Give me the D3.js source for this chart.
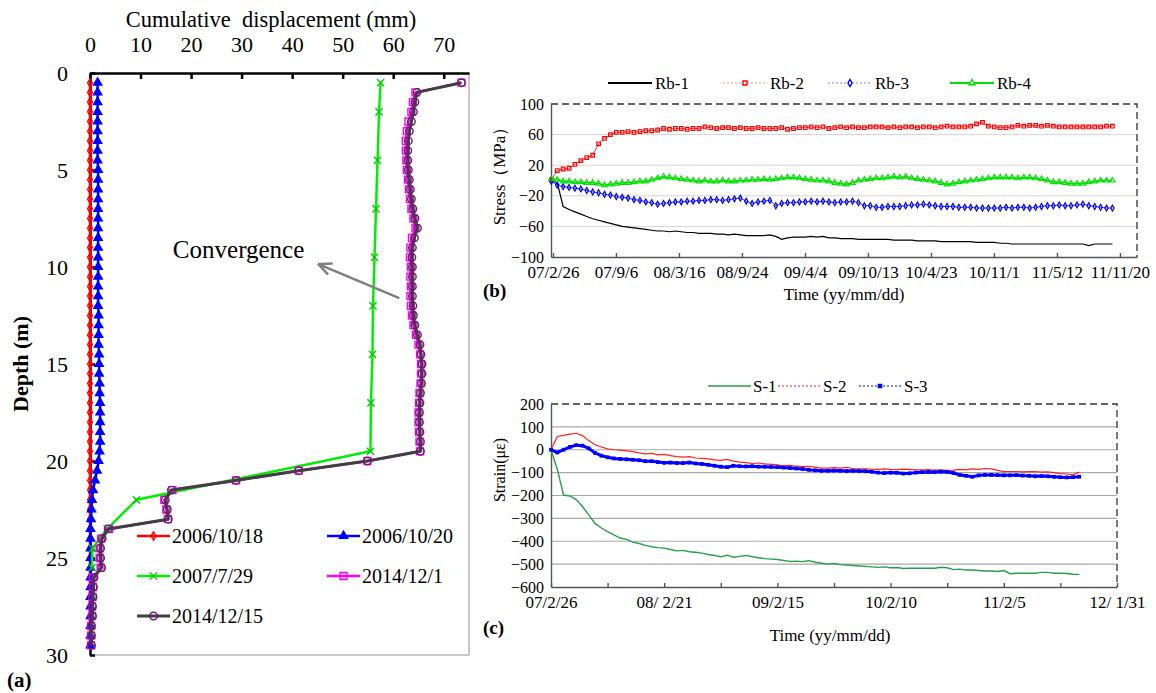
<!DOCTYPE html>
<html>
<head>
<meta charset="utf-8">
<script src="https://cdn.jsdelivr.net/npm/d3@7"></script>
<style>
  body { margin: 0; background: #fff; }
</style>
</head>
<body>
<div id="chart"></div>
<script>
// ---------- data: panel (a) displacement profile ----------
const depths = [0.5,1,1.5,2,2.5,3,3.5,4,4.5,5,5.5,6,6.5,7,7.5,8,8.5,9,9.5,10,
  10.5,11,11.5,12,12.5,13,13.5,14,14.5,15,15.5,16,16.5,17,17.5,18,18.5,19,19.5,20,
  20.5,21,21.5,22,22.5,23,23.5,24,24.5,25,25.5,26,26.5,27,27.5,28,28.5,29,29.5];

const disp061018 = [0,0,0,0,0,0,0,0,0,0, 0,0,0,0,0,0,0,0,0,0,
  0,0,0,0,0,0,0,0,0,0, 0,0,0,0,0,0,0,0,0,0,
  0,0,0,0,0,0,0,0,0,0, 0,0,0,0,0,0,0,0,0];
const disp061020 = [1.5,1.5,1.5,1.5,1.5,1.5,1.5,1.5,1.5,1.6,
  1.6,1.6,1.6,1.6,1.6,1.6,1.6,1.6,1.6,1.6,
  1.6,1.6,1.6,1.6,1.7,1.7,1.7,1.7,1.8,1.8,
  1.8,1.9,1.9,2.0,2.0,2.0,2.0,2.0,1.9,1.7,
  1.4,1.0,0.6,0.4,0.3,0.2,0.1,0.1,0.1,0.1,
  0.1,0.1,0.1,0.1,0.1,0.1,0.1,0.1,0.1];
const depths070729 = [0.5,2,4.5,7,9.5,12,14.5,17,19.5,22,23.5,24.5,25.5];
const disp070729 = [57.5,57.2,56.9,56.6,56.3,56.0,55.9,55.6,55.5,9.2,3.4,0.5,0.4];
const disp141201 = [73.5,64.4,63.9,63.6,63.0,62.7,62.5,62.5,62.6,62.7,
  62.9,63.1,63.3,63.6,64.0,64.4,63.7,63.4,63.3,63.5,
  63.4,63.5,63.4,63.5,63.7,64.0,64.5,65.0,65.3,65.5,
  65.5,65.4,65.2,65.1,65.0,65.0,65.1,65.2,65.3,54.9,
  41.3,28.9,16.3,14.7,15.1,15.4,3.8,2.2,1.9,1.9,
  2.1,0.6,0.6,0.5,0.4,0.4,0.2,0.2,0.2];
const disp141215 = [73.5,64.7,64.3,64.0,63.6,63.2,63.0,62.9,62.9,63.0,
  63.2,63.4,63.6,63.9,64.3,64.8,64.2,63.8,63.7,63.8,
  63.8,63.8,63.8,63.9,64.0,64.3,64.8,65.3,65.5,65.7,
  65.7,65.6,65.4,65.3,65.2,65.2,65.3,65.4,65.4,54.9,
  41.3,28.9,16.1,14.9,15.3,15.5,3.6,2.4,2.1,2.1,
  2.3,0.8,0.7,0.6,0.5,0.5,0.3,0.3,0.3];
const dispTicks = [0,10,20,30,40,50,60,70];
const depthTicks = [0,5,10,15,20,25,30];

// ---------- data: panel (b) rock bolt stress, one reading every 18 days ----------
const bStart = new Date(2007, 1, 21);
const bStep = 18;
const rb1 = [0,-3,-34,-38,-41,-44,-47,-50,-52,-54,
  -56,-58,-60,-61,-62,-63,-64,-65,-66,-66,
  -67,-66,-67,-68,-68,-69,-69,-69,-70,-70,
  -71,-70,-71,-72,-72,-72,-72,-71,-73,-77,
  -75,-74,-74,-74,-73,-74,-73,-75,-75,-76,
  -76,-76,-77,-77,-77,-77,-77,-77,-78,-78,
  -78,-78,-79,-79,-79,-79,-80,-80,-80,-80,
  -80,-80,-81,-81,-81,-81,-82,-82,-83,-83,
  -83,-83,-83,-83,-83,-83,-83,-83,-83,-83,
  -83,-85,-83,-83,-83,-83];
const rb2 = [1,13,15,16,21,26,30,33,48,55,
  60,63,63,64,63,64,65,65,66,68,
  67,68,68,67,68,68,70,69,68,69,
  69,68,69,68,68,69,68,68,68,69,
  67,68,69,69,70,69,70,68,69,70,
  69,70,69,69,70,70,70,69,70,69,
  70,70,69,70,70,69,70,71,70,70,
  70,71,74,76,71,70,69,69,70,72,
  71,72,72,71,72,71,70,70,70,70,
  70,70,70,70,71,71];
const rb3 = [-1,-6,-8,-9,-10,-11,-13,-15,-16,-18,
  -19,-21,-22,-23,-25,-26,-28,-29,-31,-30,
  -29,-28,-28,-27,-27,-26,-26,-25,-25,-26,
  -25,-24,-23,-27,-30,-28,-27,-26,-33,-30,
  -29,-29,-28,-28,-27,-28,-27,-28,-29,-28,
  -28,-27,-29,-33,-33,-35,-35,-34,-34,-34,
  -33,-32,-32,-31,-32,-33,-34,-34,-34,-35,
  -35,-35,-36,-36,-36,-36,-36,-35,-36,-35,
  -35,-36,-35,-34,-33,-33,-32,-33,-33,-32,
  -31,-33,-34,-35,-36,-36];
const rb4 = [2,1,-1,-1,-2,-2,-3,-3,-4,-6,
  -5,-4,-3,-3,-2,-1,-1,1,3,5,
  4,3,2,1,0,-1,0,-1,-1,0,
  -1,-1,0,0,1,1,2,1,2,3,
  4,4,3,2,1,0,0,-1,-3,-4,
  -5,-3,0,1,2,3,3,4,5,4,
  5,3,2,1,0,-1,-3,-5,-4,-2,
  -1,0,1,2,3,4,4,4,4,3,
  4,4,3,2,0,-2,-2,-3,-4,-4,
  -4,-2,-1,0,0,0];
const bTickDates = ["2007-02-26","2007-09-06","2008-03-16","2008-09-24","2009-04-04",
  "2009-10-13","2010-04-23","2010-11-01","2011-05-12","2011-11-20"];
const bTickLabels = ["07/2/26","07/9/6","08/3/16","08/9/24","09/4/4",
  "09/10/13","10/4/23","10/11/1","11/5/12","11/11/20"];
const stressTicks = [100,60,20,-20,-60,-100];

// ---------- data: panel (c) steel arch strain, one reading every 20 days ----------
const cStart = new Date(2007, 1, 26);
const cStep = 20;
const s1 = [0,-85,-198,-202,-218,-248,-285,-322,-342,-358,
  -372,-386,-392,-404,-410,-418,-424,-428,-430,-436,
  -442,-440,-446,-448,-452,-458,-462,-468,-461,-470,
  -466,-462,-468,-472,-476,-478,-480,-484,-488,-487,
  -489,-485,-492,-496,-500,-497,-502,-504,-506,-508,
  -510,-512,-514,-512,-516,-515,-519,-518,-518,-518,
  -518,-518,-514,-516,-524,-522,-526,-526,-528,-530,
  -530,-532,-528,-542,-540,-540,-540,-540,-536,-536,
  -540,-540,-541,-544,-545];
const s2 = [0,58,63,68,72,62,40,22,12,4,
  0,-2,-5,-8,-14,-18,-16,-22,-20,-26,
  -30,-32,-30,-36,-38,-40,-44,-46,-42,-50,
  -54,-56,-60,-58,-62,-64,-66,-70,-68,-72,
  -74,-73,-76,-80,-80,-78,-80,-77,-82,-84,
  -83,-85,-86,-84,-86,-87,-85,-86,-88,-88,
  -87,-89,-88,-90,-89,-86,-88,-84,-86,-82,
  -84,-90,-96,-95,-95,-97,-96,-95,-98,-97,
  -100,-104,-106,-110,-98];
const s3 = [0,-12,0,12,20,18,6,-14,-26,-33,
  -38,-40,-42,-44,-46,-50,-50,-54,-57,-56,
  -58,-58,-56,-60,-62,-66,-70,-74,-76,-70,
  -72,-73,-72,-74,-74,-75,-76,-78,-80,-82,
  -84,-88,-90,-92,-92,-91,-92,-93,-92,-93,
  -94,-96,-100,-102,-100,-101,-104,-103,-100,-98,
  -97,-98,-96,-97,-102,-110,-114,-118,-112,-110,
  -110,-111,-112,-112,-111,-113,-114,-116,-115,-116,
  -118,-120,-121,-120,-118];
const cTickDates = ["2007-02-26","2008-02-21","2009-02-15","2010-02-10","2011-02-05","2012-01-31"];
const cTickLabels = ["07/2/26","08/ 2/21","09/2/15","10/2/10","11/2/5","12/ 1/31"];
const strainTicks = [200,100,0,-100,-200,-300,-400,-500,-600];

const serif = '"Liberation Serif", "Times New Roman", serif';
const parseDate = d3.timeParse("%Y-%m-%d");

const svg = d3.select("#chart")
    .append("svg")
    .attr("width", 1156)
    .attr("height", 693)
    .style("font-family", serif);

// =============== panel (a) ===============
const xA = d3.scaleLinear().domain([0, 75]).range([90, 469]);
const yA = d3.scaleLinear().domain([0, 30]).range([73, 655]);

// light frame on right and bottom
svg.append("path")
    .attr("d", `M${xA(0)},${yA(30)}H${xA(75)}V${yA(0)}`)
    .attr("fill", "none")
    .attr("stroke", "#b8b8b8")
    .attr("stroke-width", 1.5);

const axTop = svg.append("g")
    .attr("transform", `translate(0,${yA(0)})`)
    .call(d3.axisTop(xA).tickValues(dispTicks).tickSize(-6).tickSizeOuter(0).tickPadding(21));
const axLeft = svg.append("g")
    .attr("transform", `translate(${xA(0)},0)`)
    .call(d3.axisLeft(yA).tickValues(depthTicks).tickSize(-5).tickSizeOuter(0).tickPadding(22));
[axTop, axLeft].forEach(g => {
    g.selectAll("path, line").attr("stroke", "#000").attr("stroke-width", 2.5);
    g.selectAll("text").attr("font-family", serif).attr("font-size", 22).attr("fill", "#000");
});

svg.append("text")
    .attr("x", 271).attr("y", 27)
    .attr("text-anchor", "middle")
    .attr("font-size", 22.5)
    .style("white-space", "pre")
    .text("Cumulative  displacement (mm)");

svg.append("text")
    .attr("transform", `translate(28,${yA(15)}) rotate(-90)`)
    .attr("text-anchor", "middle")
    .attr("font-size", 22)
    .attr("font-weight", "bold")
    .text("Depth (m)");

svg.append("text")
    .attr("x", 7).attr("y", 687)
    .attr("font-size", 21)
    .attr("font-weight", "bold")
    .text("(a)");

const seriesA = [
    {name: "2006/10/18", depth: depths, vals: disp061018, color: "#ff0000", width: 2.5, sym: d3.symbolDiamond, size: 20, fill: "none", mstroke: "#ff0000"},
    {name: "2006/10/20", depth: depths, vals: disp061020, color: "#0000ff", width: 2.5, sym: d3.symbolTriangle, size: 30, fill: "#0000ff", mstroke: "#0000ff"},
    {name: "2007/7/29", depth: depths070729, vals: disp070729, color: "#00ee00", width: 2.5, sym: d3.symbolX, size: 36, fill: "none", mstroke: "#00cc00"},
    {name: "2014/12/1", depth: depths, vals: disp141201, color: "#ff00ff", width: 2.5, sym: d3.symbolSquare, size: 48, fill: "none", mstroke: "#ff00ff"},
    {name: "2014/12/15", depth: depths, vals: disp141215, color: "#404040", width: 3, sym: d3.symbolCircle, size: 44, fill: "none", mstroke: "#6a1f6a"}
];

const lineA = d3.line().x(d => xA(d[1])).y(d => yA(d[0]));

seriesA.forEach(s => {
    const pts = s.depth.map((dp, i) => [dp, s.vals[i]]);
    svg.append("path")
        .datum(pts)
        .attr("d", lineA)
        .attr("fill", "none")
        .attr("stroke", s.color)
        .attr("stroke-width", s.width)
        .attr("stroke-linejoin", "round");
    svg.append("g").selectAll("path")
        .data(pts)
        .enter()
        .append("path")
        .attr("transform", d => `translate(${xA(d[1])},${yA(d[0])})`)
        .attr("d", d3.symbol().type(s.sym).size(s.size))
        .attr("fill", s.fill)
        .attr("stroke", s.mstroke)
        .attr("stroke-width", 1.4);
});

// annotation arrow (open head at the tip)
svg.append("defs").append("marker")
    .attr("id", "arrowOpen")
    .attr("viewBox", "-14 -7 15 14")
    .attr("refX", 0).attr("refY", 0)
    .attr("markerWidth", 15).attr("markerHeight", 14)
    .attr("markerUnits", "userSpaceOnUse")
    .attr("orient", "auto")
    .append("path")
    .attr("d", "M-13,-6L0,0L-13,6")
    .attr("fill", "none")
    .attr("stroke", "#808080")
    .attr("stroke-width", 2.5);

svg.append("line")
    .attr("x1", xA(61.2)).attr("y1", yA(11.6))
    .attr("x2", xA(45.2)).attr("y2", yA(9.85))
    .attr("stroke", "#808080")
    .attr("stroke-width", 2.5)
    .attr("marker-end", "url(#arrowOpen)");

svg.append("text")
    .attr("x", xA(16.4)).attr("y", yA(9.55))
    .attr("font-size", 25)
    .text("Convergence");

// legend (a)
const legA = svg.append("g");
seriesA.forEach((s, i) => {
    const lx = i % 2 === 0 ? 137 : 327;
    const ly = 536 + Math.floor(i / 2) * 40;
    const g = legA.append("g").attr("transform", `translate(${lx},${ly})`);
    g.append("line").attr("x1", 0).attr("x2", 33).attr("y1", 0).attr("y2", 0)
        .attr("stroke", s.color).attr("stroke-width", s.width);
    g.append("path")
        .attr("transform", "translate(16.5,0)")
        .attr("d", d3.symbol().type(s.sym).size(s.size))
        .attr("fill", s.fill)
        .attr("stroke", s.mstroke)
        .attr("stroke-width", 1.4);
    g.append("text").attr("x", 35).attr("y", 7)
        .attr("font-size", 20)
        .text(s.name);
});

// =============== panel (b) ===============
const xB = d3.scaleTime().domain([new Date(2007, 1, 20), new Date(2012, 0, 11)]).range([551, 1137]);
const yB = d3.scaleLinear().domain([-100, 100]).range([257, 104]);

svg.append("g").selectAll("line")
    .data([60, 20, -20, -60])
    .enter().append("line")
    .attr("x1", xB.range()[0]).attr("x2", xB.range()[1])
    .attr("y1", d => yB(d)).attr("y2", d => yB(d))
    .attr("stroke", "#d4d4d4").attr("stroke-width", 1);

svg.append("path")
    .attr("d", `M${xB.range()[0]},${yB(100)}H${xB.range()[1]}V${yB(-100)}`)
    .attr("fill", "none").attr("stroke", "#333").attr("stroke-width", 1.3)
    .attr("stroke-dasharray", "7,4");

const bDates = bTickDates.map(parseDate);
const axBx = svg.append("g")
    .attr("transform", `translate(0,${yB(-100)})`)
    .call(d3.axisBottom(xB).tickValues(bDates).tickFormat((d, i) => bTickLabels[i])
        .tickSize(-4).tickSizeOuter(0).tickPadding(9));
const axBy = svg.append("g")
    .attr("transform", `translate(${xB.range()[0]},0)`)
    .call(d3.axisLeft(yB).tickValues(stressTicks).tickSize(0).tickPadding(7));
[axBx, axBy].forEach(g => {
    g.selectAll("path, line").attr("stroke", "#555").attr("stroke-width", 1.4);
    g.selectAll("text").attr("font-family", serif).attr("font-size", 17).attr("fill", "#000");
});
axBy.selectAll("text").attr("font-size", 16);

const dateB = i => d3.timeDay.offset(bStart, i * bStep);
const lineB = d3.line().x((d, i) => xB(dateB(i))).y(d => yB(d));

const seriesB = [
    {name: "Rb-1", vals: rb1, color: "#000", width: 1.2, sym: null},
    {name: "Rb-2", vals: rb2, color: "#ff0000", width: 0.8, sym: d3.symbolSquare, size: 13, dash: "2,2"},
    {name: "Rb-3", vals: rb3, color: "#0000ff", width: 0.8, sym: d3.symbolDiamond, size: 10, dash: "2,2"},
    {name: "Rb-4", vals: rb4, color: "#00e000", width: 1.5, sym: d3.symbolTriangle, size: 12}
];

seriesB.forEach(s => {
    svg.append("path")
        .datum(s.vals)
        .attr("d", lineB)
        .attr("fill", "none")
        .attr("stroke", s.color)
        .attr("stroke-width", s.width);
    if (s.sym) {
        svg.append("g").selectAll("path")
            .data(s.vals)
            .enter().append("path")
            .attr("transform", (d, i) => `translate(${xB(dateB(i))},${yB(d)})`)
            .attr("d", d3.symbol().type(s.sym).size(s.size))
            .attr("fill", "none")
            .attr("stroke", s.color)
            .attr("stroke-width", 1.2);
    }
});

// legend (b)
const legBx = [608, 723, 828, 950];
seriesB.forEach((s, i) => {
    const g = svg.append("g").attr("transform", `translate(${legBx[i]},83)`);
    g.append("line").attr("x1", 0).attr("x2", 44).attr("y1", 0).attr("y2", 0)
        .attr("stroke", s.color).attr("stroke-width", s.sym ? (s.dash ? 1 : 2) : 2)
        .attr("stroke-dasharray", s.dash || null)
        .attr("stroke-opacity", s.dash ? 0.5 : 1);
    if (s.sym) {
        g.append("path").attr("transform", "translate(22,0)")
            .attr("d", d3.symbol().type(s.sym).size(s.size + 4))
            .attr("fill", "#fff").attr("stroke", s.color).attr("stroke-width", 1.4);
    }
    g.append("text").attr("x", 47).attr("y", 6).attr("font-size", 17).text(s.name);
});

svg.append("text")
    .attr("transform", "translate(505,172) rotate(-90)")
    .attr("text-anchor", "middle")
    .attr("font-size", 17)
    .text("Stress（MPa）");
svg.append("text")
    .attr("x", 844).attr("y", 300)
    .attr("text-anchor", "middle")
    .attr("font-size", 17)
    .text("Time (yy/mm/dd)");
svg.append("text")
    .attr("x", 483).attr("y", 297)
    .attr("font-size", 19).attr("font-weight", "bold")
    .text("(b)");

// =============== panel (c) ===============
const xC = d3.scaleTime().domain([parseDate("2007-02-26"), parseDate("2012-01-31")]).range([551, 1117]);
const yC = d3.scaleLinear().domain([-600, 200]).range([587, 404]);

svg.append("g").selectAll("line")
    .data(strainTicks.filter(v => v < 200 && v > -600))
    .enter().append("line")
    .attr("x1", xC.range()[0]).attr("x2", xC.range()[1])
    .attr("y1", d => yC(d)).attr("y2", d => yC(d))
    .attr("stroke", "#a8a8a8").attr("stroke-width", 1.2);

svg.append("path")
    .attr("d", `M${xC.range()[0]},${yC(200)}H${xC.range()[1]}V${yC(-600)}`)
    .attr("fill", "none").attr("stroke", "#333").attr("stroke-width", 1.3)
    .attr("stroke-dasharray", "7,4");

const cDates = cTickDates.map(parseDate);
const cMinor = [];
cDates.forEach((d, i) => {
    cMinor.push(d);
    if (i < cDates.length - 1) cMinor.push(d3.timeDay.offset(d, 180));
});
const axCx = svg.append("g")
    .attr("transform", `translate(0,${yC(-600)})`)
    .call(d3.axisBottom(xC).tickValues(cMinor)
        .tickFormat(d => {
            const k = cDates.findIndex(c => +c === +d);
            return k >= 0 ? cTickLabels[k] : "";
        })
        .tickSize(-4).tickSizeOuter(0).tickPadding(9));
const axCy = svg.append("g")
    .attr("transform", `translate(${xC.range()[0]},0)`)
    .call(d3.axisLeft(yC).tickValues(strainTicks).tickSize(0).tickPadding(7));
[axCx, axCy].forEach(g => {
    g.selectAll("path, line").attr("stroke", "#555").attr("stroke-width", 1.4);
    g.selectAll("text").attr("font-family", serif).attr("font-size", 17).attr("fill", "#000")
        .style("white-space", "pre");
});
axCy.selectAll("text").attr("font-size", 16);

const dateC = i => d3.timeDay.offset(cStart, i * cStep);
const lineC = d3.line().x((d, i) => xC(dateC(i))).y(d => yC(d));

const seriesC = [
    {name: "S-1", vals: s1, color: "#2a9d48", width: 1.4},
    {name: "S-2", vals: s2, color: "#ff2020", width: 1.2, dash: "2,2"},
    {name: "S-3", vals: s3, color: "#0000ff", width: 3, sym: d3.symbolSquare, size: 14, dash: "2,2"}
];

seriesC.forEach(s => {
    svg.append("path")
        .datum(s.vals)
        .attr("d", lineC)
        .attr("fill", "none")
        .attr("stroke", s.color)
        .attr("stroke-width", s.width);
    if (s.sym) {
        svg.append("g").selectAll("path")
            .data(s.vals)
            .enter().append("path")
            .attr("transform", (d, i) => `translate(${xC(dateC(i))},${yC(d)})`)
            .attr("d", d3.symbol().type(s.sym).size(s.size))
            .attr("fill", s.color);
    }
});

// legend (c)
const legCx = [708, 778, 859];
seriesC.forEach((s, i) => {
    const g = svg.append("g").attr("transform", `translate(${legCx[i]},386)`);
    g.append("line").attr("x1", 0).attr("x2", 43).attr("y1", 0).attr("y2", 0)
        .attr("stroke", s.color).attr("stroke-width", s.dash ? 1.2 : 1.6)
        .attr("stroke-dasharray", s.dash || null);
    if (s.sym) {
        g.append("path").attr("transform", "translate(21,0)")
            .attr("d", d3.symbol().type(s.sym).size(20))
            .attr("fill", s.color);
    }
    g.append("text").attr("x", 45).attr("y", 6).attr("font-size", 17).text(s.name);
});

svg.append("text")
    .attr("transform", "translate(505,470) rotate(-90)")
    .attr("text-anchor", "middle")
    .attr("font-size", 16)
    .text("Strain(με)");
svg.append("text")
    .attr("x", 830).attr("y", 641)
    .attr("text-anchor", "middle")
    .attr("font-size", 17)
    .text("Time (yy/mm/dd)");
svg.append("text")
    .attr("x", 483).attr("y", 634)
    .attr("font-size", 19).attr("font-weight", "bold")
    .text("(c)");
</script>
</body>
</html>
